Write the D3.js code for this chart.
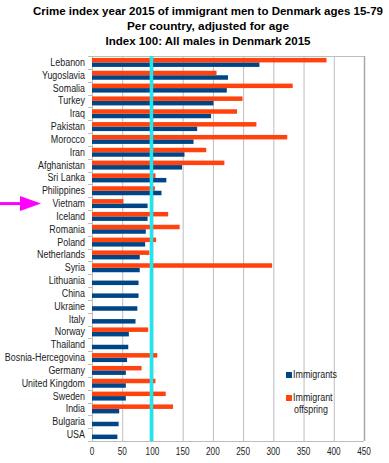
<!DOCTYPE html>
<html>
<head>
<meta charset="utf-8">
<title>Crime index 2015</title>
<script src="https://d3js.org/d3.v7.min.js"></script>
<style>
    body{ margin:0; background:#fff; }
    text{ font-family: "Liberation Sans", Arial, sans-serif; }
</style>
</head>
<body>
<svg id="chart" width="389" height="463"></svg>
<script>
    // data
    var countries = ["Lebanon","Yugoslavia","Somalia","Turkey","Iraq","Pakistan","Morocco","Iran",
        "Afghanistan","Sri Lanka","Philippines","Vietnam","Iceland","Romania","Poland","Netherlands",
        "Syria","Lithuania","China","Ukraine","Italy","Norway","Thailand","Bosnia-Hercegovina",
        "Germany","United Kingdom","Sweden","India","Bulgaria","USA"];
    var immigrants = [277,225,223,201,197,174,168,153,149,123,115,92,92,89,88,79,79,77,77,75,72,61,60,58,56,56,56,45,44,42];
    var offspring = [388,206,332,249,240,272,323,189,219,105,104,52,126,145,106,95,298,null,null,null,null,93,null,108,82,105,122,134,null,null];
    var xTicks = [0,50,100,150,200,250,300,350,400,450];
    var seriesNames = ["Immigrants","Immigrant offspring"];
    var titleLines = ["Crime index year 2015 of immigrant men to Denmark ages 15-79",
        "Per country, adjusted for age","Index 100: All males in Denmark 2015"];

    var blue = "#004586", orange = "#ff420e";
    var pLeft = 92, pRight = 364, pTop = 56, pBottom = 441;

    var svg = d3.select("#chart");

    // the picture's text is a bit narrower than Liberation Sans
    function squeeze(sel, k){
        sel.each(function(){
            var w = this.getComputedTextLength();
            d3.select(this).attr("textLength", w*k).attr("lengthAdjust", "spacingAndGlyphs");
        });
    }

    // title, centred over the plot
    var titleY = [15,30,45];
    var titleW = [350,162,205];
    titleLines.forEach(function(t, i){
        svg.append("text")
            .attr("x", 208).attr("y", titleY[i])
            .attr("text-anchor", "middle")
            .attr("font-size", 11.5).attr("font-weight", "bold")
            .attr("textLength", titleW[i])
            .attr("lengthAdjust", "spacingAndGlyphs")
            .text(t);
    });

    var x = d3.scaleLinear().domain([0,450]).range([pLeft,pRight]);
    var y = d3.scaleBand().domain(countries).range([pTop,pBottom]).paddingInner(0.3).paddingOuter(0.15);
    var ySub = d3.scaleBand().domain(["off","imm"]).range([0,y.bandwidth()]);

    // grid
    svg.append("g").selectAll("line").data(xTicks).enter().append("line")
        .attr("x1", function(d){ return x(d)+0.5; })
        .attr("x2", function(d){ return x(d)+0.5; })
        .attr("y1", pTop).attr("y2", pBottom)
        .attr("stroke", function(d){ return d==450 ? "#a8a8a8" : "#bdbdbd"; })
        .attr("stroke-width", function(d){ return d==450 ? 1.5 : 1; });
    svg.append("line").attr("x1", pLeft).attr("x2", pRight).attr("y1", pTop+0.5).attr("y2", pTop+0.5)
        .attr("stroke", "#bdbdbd");
    svg.append("line").attr("x1", pLeft).attr("x2", pRight).attr("y1", pBottom+0.5).attr("y2", pBottom+0.5)
        .attr("stroke", "#bdbdbd");

    // left ticks between categories
    var bounds = d3.range(countries.length+1).map(function(i){ return pTop + i*(pBottom-pTop)/countries.length; });
    svg.append("g").selectAll("line").data(bounds).enter().append("line")
        .attr("x1", pLeft-4).attr("x2", pLeft)
        .attr("y1", function(d){ return Math.round(d)+0.5; })
        .attr("y2", function(d){ return Math.round(d)+0.5; })
        .attr("stroke", "#bdbdbd");

    // bars
    svg.append("g").selectAll("rect").data(countries).enter().append("rect")
        .attr("x", x(0)).attr("y", function(d){ return y(d)+ySub("imm"); })
        .attr("width", function(d, i){ return x(immigrants[i])-x(0); })
        .attr("height", ySub.bandwidth())
        .attr("fill", blue);
    svg.append("g").selectAll("rect").data(countries).enter().append("rect")
        .filter(function(d, i){ return offspring[i] != null; })
        .attr("x", x(0)).attr("y", function(d){ return y(d)+ySub("off"); })
        .attr("width", function(d){ return x(offspring[countries.indexOf(d)])-x(0); })
        .attr("height", ySub.bandwidth())
        .attr("fill", orange);

    // index 100 line
    svg.append("line").attr("x1", x(100)-1).attr("x2", x(100)-1).attr("y1", pTop).attr("y2", pBottom)
        .attr("stroke", "#1ee6f0").attr("stroke-width", 3.5);

    // category labels
    svg.append("g").selectAll("text").data(countries).enter().append("text")
        .attr("x", pLeft-7)
        .attr("y", function(d){ return y(d)+y.bandwidth()/2+3.5; })
        .attr("text-anchor", "end").attr("font-size", 10).attr("fill", "#222")
        .text(function(d){ return d; })
        .call(squeeze, 0.89);

    // x tick labels
    svg.append("g").selectAll("text").data(xTicks).enter().append("text")
        .attr("x", function(d){ return x(d); }).attr("y", 455)
        .attr("text-anchor", "middle").attr("font-size", 10).attr("fill", "#222")
        .text(function(d){ return d; })
        .call(squeeze, 0.82);

    // legend
    var lg = svg.append("g");
    lg.append("rect").attr("x", 286).attr("y", 372).attr("width", 6).attr("height", 6).attr("fill", blue);
    lg.append("text").attr("x", 293).attr("y", 378).attr("font-size", 10).attr("fill", "#222").text(seriesNames[0]);
    lg.append("rect").attr("x", 286).attr("y", 395).attr("width", 6).attr("height", 6).attr("fill", orange);
    lg.append("text").attr("x", 293).attr("y", 401).attr("font-size", 10).attr("fill", "#222").text("Immigrant");
    lg.append("text").attr("x", 294).attr("y", 413).attr("font-size", 10).attr("fill", "#222").text("offspring");
    lg.selectAll("text").call(squeeze, 0.89);

    // magenta arrow pointing at Vietnam
    var vy = y("Vietnam")+y.bandwidth()/2;
    svg.append("line").attr("x1", 0).attr("x2", 22).attr("y1", vy).attr("y2", vy)
        .attr("stroke", "#f0f").attr("stroke-width", 3);
    svg.append("path")
        .attr("d", "M20," + (vy-7.5) + " L41," + vy + " L20," + (vy+7.5) + " Z")
        .attr("fill", "#f0f");
</script>
</body>
</html>
